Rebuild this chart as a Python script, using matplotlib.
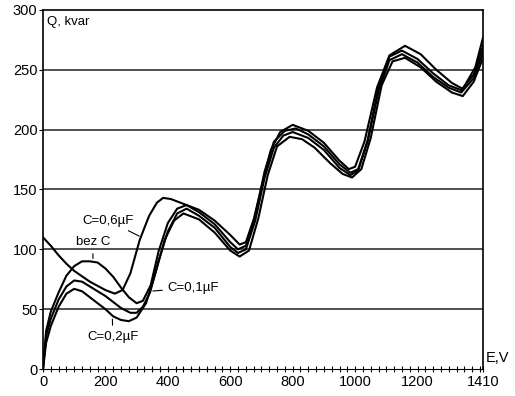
import matplotlib
matplotlib.use("Agg")
import matplotlib.pyplot as plt
import numpy as np

plt.rcParams["font.family"] = ["Liberation Sans", "DejaVu Sans"]

# Q(E) curves, read point by point: (E in V, Q in kvar)
e_c06 = [0, 25, 50, 75, 100, 150, 200, 230, 255, 280, 310, 340, 365, 385, 410, 450, 500, 550, 600, 630,
         650, 675, 700, 730, 760, 800, 850, 900, 950, 980, 1000, 1030, 1070, 1110, 1160, 1210, 1260, 1310,
         1345, 1385, 1410]
q_c06 = [110, 103, 95, 88, 82, 73, 66, 63, 66, 80, 108, 128, 139, 143, 142, 138, 133, 124, 112, 104,
         106, 125, 152, 183, 198, 204, 199, 189, 174, 167, 169, 190, 235, 262, 270, 263, 250, 239,
         234, 252, 277]

e_bez = [0, 10, 25, 50, 75, 100, 125, 150, 175, 200, 225, 250, 275, 300, 320, 345, 370, 400, 430, 460,
         500, 550, 600, 625, 650, 680, 710, 740, 775, 810, 850, 900, 950, 985, 1010, 1040, 1075, 1110,
         1150, 1200, 1250, 1300, 1340, 1380, 1410]
q_bez = [0, 32, 48, 64, 78, 86, 90, 90, 89, 84, 77, 68, 60, 55, 57, 70, 98, 122, 134, 137,
         131, 121, 106, 100, 103, 128, 165, 190, 199, 201, 196, 186, 171, 164, 167, 191, 235, 261,
         266, 259, 247, 237, 233, 246, 270]

e_c01 = [0, 10, 25, 50, 75, 100, 125, 150, 200, 250, 280, 300, 320, 343, 370, 400, 430, 460, 500, 550,
         600, 625, 650, 680, 710, 740, 770, 800, 850, 900, 950, 985, 1010, 1040, 1075, 1110, 1150, 1200,
         1250, 1300, 1340, 1380, 1410]
q_c01 = [0, 28, 42, 58, 69, 74, 73, 69, 61, 51, 47, 47, 52, 64, 90, 115, 130, 134, 128, 118,
         102, 97, 100, 124, 160, 185, 195, 198, 193, 183, 168, 162, 166, 190, 232, 258, 263, 256,
         244, 235, 231, 243, 265]

e_c02 = [0, 10, 25, 50, 75, 100, 125, 150, 200, 225, 250, 275, 300, 330, 360, 390, 420, 450, 500, 550,
         600, 630, 660, 690, 720, 750, 790, 830, 870, 920, 960, 990, 1020, 1050, 1085, 1120, 1160, 1210,
         1260, 1310, 1345, 1380, 1410]
q_c02 = [0, 22, 36, 52, 63, 67, 65, 60, 50, 44, 41, 40, 43, 55, 80, 108, 124, 130, 125, 114,
         99, 94, 99, 126, 162, 186, 194, 192, 185, 172, 163, 160, 167, 193, 237, 257, 260, 252,
         240, 231, 228, 240, 260]

y_ticks = [0, 50, 100, 150, 200, 250, 300]
x_ticks = [0, 200, 400, 600, 800, 1000, 1200, 1410]

fig = plt.figure(figsize=(5.15, 3.96), dpi=100)
ax = fig.add_axes([0.0835, 0.068, 0.8545, 0.907])

for yv in y_ticks[1:-1]:
    ax.axhline(yv, color="#333333", lw=1.2, zorder=1)

for e, q in [(e_c06, q_c06), (e_bez, q_bez), (e_c01, q_c01), (e_c02, q_c02)]:
    ax.plot(e, q, color="black", lw=1.5, zorder=3, solid_joinstyle="round")

ax.set_xlim(0, 1410)
ax.set_ylim(0, 300)
ax.set_yticks(y_ticks)
ax.set_xticks(x_ticks)
ax.set_xticks(np.arange(0, 1410, 25), minor=True)
ax.tick_params(axis="x", which="both", direction="inout", length=5, width=0.8, labelsize=10.5, pad=2)
ax.tick_params(axis="y", direction="out", length=3, labelsize=10.5, pad=1)
for s in ax.spines.values():
    s.set_linewidth(1.2)
ax.spines["bottom"].set_linewidth(0.8)

ax.text(12, 295, "Q, kvar", fontsize=9.5, va="top", ha="left")
ax.text(1.005, 0.01, "E,V", transform=ax.transAxes, fontsize=10.5, ha="left", va="bottom")

lbl = dict(fontsize=9.5, color="black")
arr = dict(arrowstyle="-", color="black", lw=0.8)
ax.annotate("C=0,6\u00b5F", xy=(316, 110), xytext=(210, 124), ha="center", va="center",
            arrowprops=arr, **lbl)
ax.annotate("bez C", xy=(160, 90), xytext=(160, 106), ha="center", va="center",
            arrowprops=arr, **lbl)
ax.annotate("C=0,1\u00b5F", xy=(343, 65), xytext=(400, 68), ha="left", va="center",
            arrowprops=arr, **lbl)
ax.annotate("C=0,2\u00b5F", xy=(222, 44), xytext=(224, 27), ha="center", va="center",
            arrowprops=arr, **lbl)

fig.savefig("out.png", dpi=100)
